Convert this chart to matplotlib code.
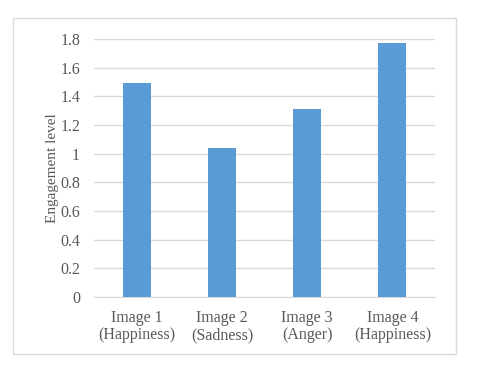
import matplotlib.pyplot as plt
from matplotlib.patches import Rectangle

categories = ["Image 1\n(Happiness)", "Image 2\n(Sadness)", "Image 3\n(Anger)", "Image 4\n(Happiness)"]
values = [1.49, 1.04, 1.31, 1.77]
yticks = [0, 0.2, 0.4, 0.6, 0.8, 1, 1.2, 1.4, 1.6, 1.8]
ytick_labels = ["0", "0.2", "0.4", "0.6", "0.8", "1", "1.2", "1.4", "1.6", "1.8"]

plt.rcParams["font.family"] = ["Liberation Serif", "DejaVu Serif"]
text_color = "#595959"

fig = plt.figure(figsize=(4.8, 3.69), dpi=100)

# chart border like the Excel chart area
fig.patches.append(Rectangle((13 / 480, 1 - 354 / 369), 443 / 480, 336 / 369,
                             transform=fig.transFigure, fill=False,
                             edgecolor="#D9D9D9", linewidth=1))

ax = fig.add_axes([94 / 480, 1 - 297 / 369, 341 / 480, 258 / 369])
x = range(len(categories))
ax.bar(x, values, width=0.33, color="#5B9BD5", zorder=3)

ax.set_xlim(-0.5, len(categories) - 0.5)
ax.set_ylim(0, 1.8)
ax.set_yticks(yticks)
ax.set_yticklabels(ytick_labels)
ax.set_xticks(list(x))
ax.set_xticklabels(categories, linespacing=1.15)

ax.grid(axis="y", color="#D9D9D9", linewidth=1, zorder=0)
for side in ["top", "right", "left"]:
    ax.spines[side].set_visible(False)
ax.spines["bottom"].set_color("#D9D9D9")
ax.tick_params(axis="both", length=0, colors=text_color, labelsize=11.5)
ax.tick_params(axis="y", pad=10)
ax.tick_params(axis="x", pad=9)

ax.set_ylabel("Engagement level", color=text_color, fontsize=11, labelpad=1)

fig.savefig("out.png", dpi=100)
